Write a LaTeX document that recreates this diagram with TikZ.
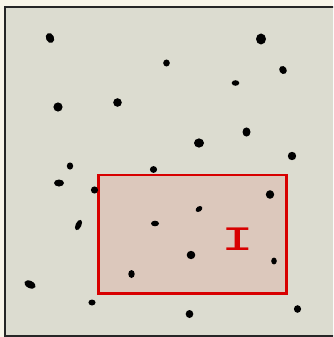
\documentclass[tikz,border=0pt]{standalone}
\usepackage{fontspec}
\newfontfamily\lblfont{DejaVu Sans Mono}
\definecolor{paper}{HTML}{F8F5E9}
\definecolor{field}{HTML}{DCDCD0}
\definecolor{zonered}{HTML}{D80000}
\definecolor{zonefill}{HTML}{DCC8BC}
\tikzset{
  dot/.style={fill=black},
  zone/.style={draw=zonered, line width=2.4pt, fill=zonefill},
  frame/.style={draw=black!85, line width=2pt, fill=field},
  lbl/.style={text=zonered, font=\lblfont\fontsize{31}{31}\selectfont, xscale=1.75, inner sep=0pt}
}
\begin{document}
\begin{tikzpicture}[x=1pt,y=-1pt]
\useasboundingbox (0,0) rectangle (333,337);
\fill[paper] (0,0) rectangle (333,337);
\begin{scope}
\clip (0,0) rectangle (333,337);
\path[frame] (4.5,7.5) rectangle (345,336);
\end{scope}
\path[zone] (98.5,175) rectangle (286.5,293.5);
\node[lbl] (label) at (237.5,239) {I};
% dots
\fill[dot] (50,38) ellipse [x radius=4, y radius=5.2, rotate=25];
\fill[dot] (261,39) ellipse [x radius=5, y radius=5.5];
\fill[dot] (166.5,63) ellipse [x radius=3.3, y radius=3.5];
\fill[dot] (283,70) ellipse [x radius=3.6, y radius=4.2, rotate=35];
\fill[dot] (235.5,83) ellipse [x radius=3.8, y radius=2.8];
\fill[dot] (58,107) ellipse [x radius=4.6, y radius=4.6];
\fill[dot] (117.5,102.5) ellipse [x radius=4.3, y radius=4.3];
\fill[dot] (246.5,132) ellipse [x radius=4, y radius=4.6];
\fill[dot] (199,143) ellipse [x radius=5, y radius=4.6];
\fill[dot] (292,156) ellipse [x radius=4.2, y radius=4.2];
\fill[dot] (70,166) ellipse [x radius=3.2, y radius=3.6];
\fill[dot] (153.5,169.5) ellipse [x radius=3.6, y radius=3.4];
\fill[dot] (59,183) ellipse [x radius=5, y radius=3.5];
\fill[dot] (94.5,190) ellipse [x radius=3.6, y radius=3.6];
\fill[dot] (270,194.5) ellipse [x radius=4.2, y radius=4.3];
\fill[dot] (199,209) ellipse [x radius=3.7, y radius=2.6, rotate=35];
\fill[dot] (78.5,225) ellipse [x radius=2.9, y radius=5.6, rotate=-25];
\fill[dot] (155,223.5) ellipse [x radius=4, y radius=2.8];
\fill[dot] (191,255) ellipse [x radius=4.3, y radius=4.2];
\fill[dot] (274,261) ellipse [x radius=2.8, y radius=3.4];
\fill[dot] (131.5,274) ellipse [x radius=3.2, y radius=4];
\fill[dot] (30,284.5) ellipse [x radius=6, y radius=3.6, rotate=-25];
\fill[dot] (92,302.5) ellipse [x radius=3.6, y radius=3];
\fill[dot] (189.5,314) ellipse [x radius=3.8, y radius=4];
\fill[dot] (297.5,309) ellipse [x radius=3.6, y radius=3.8];
\end{tikzpicture}
\end{document}
